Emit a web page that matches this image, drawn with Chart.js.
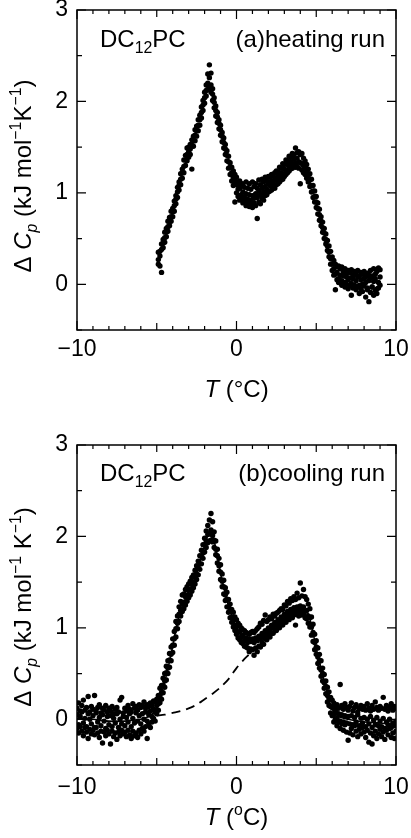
<!DOCTYPE html>
<html>
<head>
<meta charset="utf-8">
<script src="https://cdn.jsdelivr.net/npm/chart.js@4/dist/chart.umd.min.js"></script>
<style>
  html, body { margin: 0; padding: 0; background: #fff; }
  #wrap { position: relative; width: 411px; height: 838px; }
  canvas { position: absolute; left: 0; }
</style>
</head>
<body>
<div id="wrap">
  <canvas id="heat" width="411" height="420" style="top:0"></canvas>
  <canvas id="cool" width="411" height="418" style="top:420px"></canvas>
</div>
<script>
// --- axis ticks ---
const xLabelTicks = [-10, 0, 10];
const yLabelTicks = [0, 1, 2, 3];
const xMidTicks = [-5, 5];
const xMinorTicks = [-9, -8, -7, -6, -4, -3, -2, -1, 1, 2, 3, 4, 6, 7, 8, 9];
const yMinorTicks = [-0.5, 0.5, 1.5, 2.5];

// --- (a) heating run : T (C) and three read-off rows of the dot band ---
const heatT = [
  -4.9, -4.8, -4.7, -4.6, -4.5, -4.4, -4.3, -4.2, -4.1, -4.0,
  -3.9, -3.8, -3.7, -3.6, -3.5, -3.4, -3.3, -3.2, -3.1, -3.0,
  -2.9, -2.8, -2.7, -2.6, -2.5, -2.4, -2.3, -2.2, -2.1, -2.0,
  -1.9, -1.8, -1.7, -1.6, -1.5, -1.4, -1.3, -1.2, -1.1, -1.0,
  -0.9, -0.8, -0.7, -0.6, -0.5, -0.4, -0.3, -0.2, -0.1, 0.0,
  0.1, 0.2, 0.3, 0.4, 0.5, 0.6, 0.7, 0.8, 0.9, 1.0,
  1.1, 1.2, 1.3, 1.4, 1.5, 1.6, 1.7, 1.8, 1.9, 2.0,
  2.1, 2.2, 2.3, 2.4, 2.5, 2.6, 2.7, 2.8, 2.9, 3.0,
  3.1, 3.2, 3.3, 3.4, 3.5, 3.6, 3.7, 3.8, 3.9, 4.0,
  4.1, 4.2, 4.3, 4.4, 4.5, 4.6, 4.7, 4.8, 4.9, 5.0,
  5.1, 5.2, 5.3, 5.4, 5.5, 5.6, 5.7, 5.8, 5.9, 6.0,
  6.1, 6.2, 6.3, 6.4, 6.5, 6.6, 6.7, 6.8, 6.9, 7.0,
  7.1, 7.2, 7.3, 7.4, 7.5, 7.6, 7.7, 7.8, 7.9, 8.0,
  8.1, 8.2, 8.3, 8.4, 8.5, 8.6, 8.7, 8.8, 8.9, 9.0
];
const heatMid = [
  0.27, 0.31, 0.38, 0.45, 0.51, 0.57, 0.63, 0.69, 0.74, 0.79,
  0.86, 0.93, 1.01, 1.08, 1.15, 1.22, 1.29, 1.36, 1.42, 1.45,
  1.48, 1.52, 1.57, 1.63, 1.68, 1.74, 1.80, 1.88, 1.96, 2.04,
  2.12, 2.20, 2.26, 2.18, 2.08, 1.99, 1.90, 1.83, 1.76, 1.69,
  1.62, 1.55, 1.48, 1.41, 1.34, 1.28, 1.22, 1.17, 1.13, 1.09,
  1.04, 1.05, 0.98, 1.01, 0.95, 0.99, 0.93, 0.98, 0.92, 0.97,
  0.94, 0.99, 0.95, 1.02, 0.98, 1.05, 1.01, 1.07, 1.04, 1.10,
  1.08, 1.13, 1.11, 1.16, 1.14, 1.19, 1.17, 1.22, 1.21, 1.26,
  1.25, 1.31, 1.29, 1.34, 1.32, 1.37, 1.33, 1.38, 1.34, 1.33,
  1.32, 1.30, 1.27, 1.23, 1.19, 1.14, 1.08, 1.02, 0.96, 0.90,
  0.83, 0.76, 0.69, 0.62, 0.56, 0.49, 0.42, 0.35, 0.28, 0.22,
  0.17, 0.11, 0.13, 0.06, 0.10, 0.04, 0.09, 0.02, 0.08, 0.05,
  0.07, 0.01, 0.06, -0.02, 0.04, 0.08, -0.01, 0.05, 0.00, 0.06,
  0.02, -0.04, 0.04, 0.07, -0.03, 0.03, 0.06, -0.05, 0.02, 0.08
];
const heatHi = [
  0.35, 0.36, 0.44, 0.49, 0.57, 0.61, 0.69, 0.73, 0.80, 0.83,
  0.91, 0.97, 1.06, 1.12, 1.21, 1.26, 1.36, 1.41, 1.49, 1.50,
  1.53, 1.58, 1.62, 1.69, 1.73, 1.80, 1.85, 1.94, 2.01, 2.10,
  2.18, 2.30, 2.40, 2.31, 2.14, 2.04, 1.95, 1.88, 1.80, 1.74,
  1.66, 1.60, 1.53, 1.46, 1.40, 1.33, 1.28, 1.24, 1.20, 1.17,
  1.12, 1.13, 1.08, 1.10, 1.06, 1.12, 1.05, 1.10, 1.04, 1.12,
  1.07, 1.10, 1.05, 1.14, 1.09, 1.15, 1.12, 1.17, 1.13, 1.18,
  1.17, 1.20, 1.19, 1.22, 1.24, 1.23, 1.28, 1.27, 1.32, 1.31,
  1.36, 1.35, 1.40, 1.39, 1.43, 1.42, 1.49, 1.44, 1.45, 1.42,
  1.43, 1.38, 1.35, 1.31, 1.26, 1.21, 1.15, 1.08, 1.02, 0.96,
  0.89, 0.82, 0.74, 0.68, 0.61, 0.55, 0.48, 0.42, 0.36, 0.30,
  0.26, 0.22, 0.19, 0.20, 0.17, 0.19, 0.14, 0.17, 0.12, 0.15,
  0.13, 0.16, 0.10, 0.14, 0.11, 0.15, 0.09, 0.13, 0.11, 0.14,
  0.08, 0.12, 0.10, 0.15, 0.09, 0.17, 0.11, 0.14, 0.18, 0.16
];
const heatLo = [
  0.22, 0.20, 0.13, 0.40, 0.46, 0.52, 0.58, 0.64, 0.69, 0.74,
  0.80, 0.88, 0.95, 1.03, 1.09, 1.16, 1.22, 1.30, 1.35, 1.39,
  1.42, 1.26, 1.51, 1.57, 1.62, 1.68, 1.74, 1.82, 1.90, 1.98,
  2.06, 2.13, 2.15, 2.10, 2.01, 1.93, 1.84, 1.77, 1.70, 1.63,
  1.56, 1.49, 1.42, 1.35, 1.27, 1.20, 1.13, 1.08, 0.90, 1.00,
  0.96, 0.92, 0.94, 0.89, 0.91, 0.86, 0.90, 0.85, 0.88, 0.84,
  0.89, 0.86, 0.72, 0.90, 0.88, 0.94, 0.92, 0.97, 0.98, 1.01,
  1.02, 1.03, 1.06, 1.05, 1.09, 1.10, 1.12, 1.14, 1.15, 1.18,
  1.20, 1.22, 1.24, 1.26, 1.27, 1.29, 1.28, 1.29, 1.27, 1.10,
  1.25, 1.22, 1.20, 1.16, 1.12, 1.07, 1.01, 0.95, 0.90, 0.84,
  0.77, 0.70, 0.64, 0.57, 0.50, 0.44, 0.37, 0.30, 0.22, 0.15,
  0.10, -0.06, 0.05, 0.02, 0.04, -0.01, 0.02, -0.03, 0.00, -0.05,
  -0.02, -0.12, -0.04, -0.01, -0.06, -0.03, -0.10, -0.05, -0.08, -0.02,
  -0.14, -0.06, -0.19, -0.09, -0.03, -0.12, -0.07, -0.10, -0.04, -0.01
];

// --- (b) cooling run ---
const coolT = [
  -10.0, -9.9, -9.8, -9.7, -9.6, -9.5, -9.4, -9.3, -9.2, -9.1,
  -9.0, -8.9, -8.8, -8.7, -8.6, -8.5, -8.4, -8.3, -8.2, -8.1,
  -8.0, -7.9, -7.8, -7.7, -7.6, -7.5, -7.4, -7.3, -7.2, -7.1,
  -7.0, -6.9, -6.8, -6.7, -6.6, -6.5, -6.4, -6.3, -6.2, -6.1,
  -6.0, -5.9, -5.8, -5.7, -5.6, -5.5, -5.4, -5.3, -5.2, -5.1,
  -5.0, -4.9, -4.8, -4.7, -4.6, -4.5, -4.4, -4.3, -4.2, -4.1,
  -4.0, -3.9, -3.8, -3.7, -3.6, -3.5, -3.4, -3.3, -3.2, -3.1,
  -3.0, -2.9, -2.8, -2.7, -2.6, -2.5, -2.4, -2.3, -2.2, -2.1,
  -2.0, -1.9, -1.8, -1.7, -1.6, -1.5, -1.4, -1.3, -1.2, -1.1,
  -1.0, -0.9, -0.8, -0.7, -0.6, -0.5, -0.4, -0.3, -0.2, -0.1,
  0.0, 0.1, 0.2, 0.3, 0.4, 0.5, 0.6, 0.7, 0.8, 0.9,
  1.0, 1.1, 1.2, 1.3, 1.4, 1.5, 1.6, 1.7, 1.8, 1.9,
  2.0, 2.1, 2.2, 2.3, 2.4, 2.5, 2.6, 2.7, 2.8, 2.9,
  3.0, 3.1, 3.2, 3.3, 3.4, 3.5, 3.6, 3.7, 3.8, 3.9,
  4.0, 4.1, 4.2, 4.3, 4.4, 4.5, 4.6, 4.7, 4.8, 4.9,
  5.0, 5.1, 5.2, 5.3, 5.4, 5.5, 5.6, 5.7, 5.8, 5.9,
  6.0, 6.1, 6.2, 6.3, 6.4, 6.5, 6.6, 6.7, 6.8, 6.9,
  7.0, 7.1, 7.2, 7.3, 7.4, 7.5, 7.6, 7.7, 7.8, 7.9,
  8.0, 8.1, 8.2, 8.3, 8.4, 8.5, 8.6, 8.7, 8.8, 8.9,
  9.0, 9.1, 9.2, 9.3, 9.4, 9.5, 9.6, 9.7, 9.8, 9.9, 10.0
];
const coolMid = [
  0.05, -0.06, 0.03, 0.08, -0.04, 0.01, -0.08, 0.06, 0.00, -0.05,
  0.04, -0.09, 0.07, -0.03, 0.02, -0.07, 0.05, -0.02, -0.10, 0.03,
  -0.06, 0.04, -0.08, 0.01, -0.04, 0.06, -0.09, 0.00, -0.05, 0.03,
  -0.07, 0.02, -0.03, 0.06, -0.08, 0.01, -0.04, 0.07, -0.02, 0.04,
  -0.05, 0.06, 0.00, 0.08, -0.02, 0.05, 0.09, 0.03, 0.11, 0.08,
  0.15, 0.17, 0.26, 0.29, 0.37, 0.42, 0.51, 0.56, 0.65, 0.71,
  0.81, 0.88, 0.99, 1.05, 1.15, 1.19, 1.26, 1.28, 1.34, 1.36,
  1.41, 1.42, 1.48, 1.50, 1.56, 1.59, 1.66, 1.70, 1.78, 1.82,
  1.91, 1.95, 2.02, 2.03, 2.07, 2.01, 1.96, 1.86, 1.79, 1.68,
  1.61, 1.51, 1.45, 1.36, 1.31, 1.23, 1.19, 1.12, 1.09, 1.03,
  1.01, 0.95, 0.96, 0.90, 0.92, 0.86, 0.89, 0.84, 0.88, 0.85,
  0.88, 0.84, 0.89, 0.86, 0.91, 0.88, 0.94, 0.91, 0.97, 0.94,
  1.00, 0.97, 1.03, 1.00, 1.06, 1.03, 1.09, 1.06, 1.12, 1.09,
  1.15, 1.12, 1.18, 1.15, 1.20, 1.17, 1.22, 1.18, 1.23, 1.19,
  1.24, 1.20, 1.23, 1.18, 1.19, 1.13, 1.11, 1.01, 0.95, 0.84,
  0.79, 0.68, 0.64, 0.54, 0.50, 0.40, 0.36, 0.26, 0.23, 0.14,
  0.13, 0.05, 0.09, 0.01, 0.06, -0.02, 0.05, -0.03, 0.04, -0.04,
  0.03, -0.05, 0.04, -0.06, 0.02, -0.03, 0.05, -0.07, 0.01, -0.04,
  0.02, -0.08, 0.00, -0.05, 0.03, -0.09, -0.01, -0.06, 0.02, -0.07,
  -0.02, -0.08, 0.01, -0.10, -0.03, -0.06, 0.00, -0.09, -0.04, -0.07, -0.02
];
const coolHi = [
  0.12, 0.18, 0.09, 0.15, 0.21, 0.10, 0.13, 0.25, 0.08, 0.14,
  0.11, 0.26, 0.09, 0.13, 0.16, 0.07, 0.12, 0.10, 0.15, 0.08,
  0.12, 0.09, 0.14, 0.06, 0.11, 0.13, 0.08, 0.21, 0.24, 0.07,
  0.12, 0.09, 0.15, 0.11, 0.08, 0.17, 0.12, 0.14, 0.10, 0.16,
  0.13, 0.15, 0.19, 0.12, 0.16, 0.14, 0.18, 0.15, 0.20, 0.19,
  0.22, 0.26, 0.34, 0.37, 0.45, 0.50, 0.58, 0.64, 0.72, 0.79,
  0.88, 0.96, 1.07, 1.13, 1.23, 1.29, 1.36, 1.37, 1.42, 1.45,
  1.48, 1.51, 1.55, 1.58, 1.63, 1.68, 1.73, 1.79, 1.85, 1.91,
  1.98, 2.06, 2.12, 2.18, 2.25, 2.16, 2.05, 1.95, 1.86, 1.76,
  1.69, 1.59, 1.52, 1.44, 1.39, 1.31, 1.26, 1.20, 1.17, 1.12,
  1.09, 1.05, 1.03, 1.00, 0.98, 0.97, 0.95, 0.94, 0.93, 0.95,
  0.96, 0.95, 0.97, 0.99, 1.01, 1.05, 1.04, 1.08, 1.14, 1.07,
  1.09, 1.12, 1.10, 1.15, 1.13, 1.16, 1.17, 1.19, 1.21, 1.20,
  1.25, 1.24, 1.29, 1.27, 1.32, 1.30, 1.34, 1.31, 1.38, 1.33,
  1.49, 1.35, 1.42, 1.34, 1.31, 1.26, 1.21, 1.12, 1.04, 0.93,
  0.86, 0.78, 0.71, 0.64, 0.56, 0.49, 0.42, 0.35, 0.30, 0.24,
  0.21, 0.18, 0.14, 0.16, 0.12, 0.38, 0.15, 0.11, 0.17, 0.13,
  0.10, 0.14, 0.18, 0.09, 0.13, 0.16, 0.08, 0.12, 0.15, 0.11,
  0.14, 0.10, 0.17, 0.12, 0.09, 0.15, 0.11, 0.19, 0.13, 0.10,
  0.14, 0.12, 0.24, 0.11, 0.15, 0.09, 0.13, 0.17, 0.10, 0.14, 0.12
];
const coolLo = [
  -0.10, -0.15, -0.08, -0.13, -0.18, -0.09, -0.14, -0.21, -0.11, -0.16,
  -0.12, -0.17, -0.09, -0.15, -0.20, -0.13, -0.26, -0.14, -0.18, -0.12,
  -0.16, -0.27, -0.13, -0.19, -0.15, -0.22, -0.14, -0.18, -0.12, -0.16,
  -0.14, -0.19, -0.12, -0.17, -0.21, -0.13, -0.18, -0.15, -0.20, -0.12,
  -0.16, -0.10, -0.13, -0.08, -0.21, -0.05, -0.09, -0.03, 0.01, -0.02,
  0.06, 0.10, 0.18, 0.22, 0.29, 0.35, 0.43, 0.50, 0.57, 0.64,
  0.73, 0.81, 0.90, 0.99, 1.07, 1.13, 1.18, 1.21, 1.25, 1.29,
  1.33, 1.36, 1.40, 1.44, 1.48, 1.53, 1.58, 1.64, 1.70, 1.76,
  1.83, 1.88, 1.93, 1.95, 1.96, 1.94, 1.88, 1.80, 1.71, 1.62,
  1.53, 1.45, 1.37, 1.30, 1.23, 1.17, 1.11, 1.06, 1.01, 0.97,
  0.93, 0.89, 0.87, 0.84, 0.83, 0.80, 0.79, 0.78, 0.74, 0.77,
  0.76, 0.70, 0.78, 0.74, 0.80, 0.79, 0.84, 0.82, 0.88, 0.87,
  0.91, 0.90, 0.94, 0.94, 0.98, 0.97, 1.01, 1.00, 1.04, 1.03,
  1.07, 1.06, 1.10, 1.09, 1.12, 1.11, 1.14, 1.03, 1.15, 1.13,
  1.16, 1.14, 1.15, 1.11, 1.10, 1.05, 1.01, 0.92, 0.85, 0.76,
  0.71, 0.61, 0.56, 0.47, 0.42, 0.34, 0.28, 0.19, 0.15, 0.07,
  0.04, -0.03, 0.00, -0.07, -0.03, -0.10, -0.05, -0.12, -0.06, -0.14,
  -0.23, -0.15, -0.10, -0.17, -0.07, -0.13, -0.19, -0.11, -0.16, -0.09,
  -0.14, -0.20, -0.12, -0.25, -0.15, -0.27, -0.18, -0.13, -0.21, -0.16,
  -0.11, -0.19, -0.14, -0.22, -0.12, -0.17, -0.10, -0.20, -0.15, -0.21, -0.13
];
// solid fit curve through the cooling data
const fitT = [-10, -9, -8, -7, -6, -5.5, -5.2, -5.0, -4.8, -4.6, -4.4, -4.2, -4.0, -3.8, -3.6, -3.4, -3.2, -3.0,
  -2.8, -2.6, -2.4, -2.2, -2.0, -1.8, -1.65, -1.5, -1.3, -1.1, -0.9, -0.7, -0.5, -0.3, -0.1, 0.2, 0.5, 0.8,
  1.1, 1.5, 2.0, 2.5, 3.0, 3.5, 4.0, 4.3, 4.5, 4.7, 4.9, 5.1, 5.3, 5.5, 5.7, 5.9, 6.1, 6.4, 7, 8, 9, 10];
const fitCp = [0.01, 0.00, -0.02, -0.02, 0.00, 0.03, 0.07, 0.13, 0.22, 0.34, 0.48, 0.63, 0.80, 0.98, 1.13, 1.24, 1.32, 1.40,
  1.47, 1.55, 1.65, 1.77, 1.90, 2.01, 2.06, 2.02, 1.87, 1.69, 1.52, 1.37, 1.24, 1.13, 1.04, 0.94, 0.88, 0.86,
  0.86, 0.90, 0.98, 1.05, 1.13, 1.19, 1.22, 1.20, 1.15, 1.03, 0.86, 0.70, 0.56, 0.42, 0.28, 0.16, 0.08, 0.03, 0.00, -0.03, -0.04, -0.06];
// dashed baseline under the transitions
const baseT = [-5.0, -4.5, -4.0, -3.5, -3.0, -2.5, -2.0, -1.5, -1.0, -0.5, 0.0, 0.5, 0.85, 1.2];
const baseCp = [0.04, 0.05, 0.07, 0.09, 0.12, 0.16, 0.22, 0.28, 0.35, 0.44, 0.56, 0.66, 0.72, 0.80];

const FONT = '"Liberation Sans", Arial, Helvetica, sans-serif';
const FS = 23;
const LS = 24;  // label / title size

function pts(xs, ys) { return xs.map((x, i) => ({ x: x, y: ys[i] })); }

function dots(xs, ys) {
    return { data: pts(xs, ys), pointRadius: 2.7, pointHoverRadius: 2.7, pointBackgroundColor: '#000', pointBorderWidth: 0, showLine: false };
}

// draw a run of text pieces (italic / sub / sup) on one baseline
function drawRich(ctx, segs, x, y, align, size) {
    const parts = segs.map(s => {
        const sz = (s.sub || s.sup) ? size * 0.66 : size;
        const font = (s.it ? 'italic ' : '') + sz + 'px ' + FONT;
        ctx.font = font;
        return { t: s.t, font: font, w: ctx.measureText(s.t).width, dy: s.sub ? size * 0.27 : (s.sup ? -size * 0.4 : 0) };
    });
    const total = parts.reduce((a, p) => a + p.w, 0);
    let cx = align === 'center' ? x - total / 2 : (align === 'right' ? x - total : x);
    ctx.fillStyle = '#000';
    ctx.textAlign = 'left';
    ctx.textBaseline = 'alphabetic';
    parts.forEach(p => { ctx.font = p.font; ctx.fillText(p.t, cx, y + p.dy); cx += p.w; });
}

const framePlugin = {
    id: 'frame',
    afterDraw(chart, args, o) {
        const ctx = chart.ctx, a = chart.chartArea;
        const xs = chart.scales.x, ys = chart.scales.y;
        ctx.save();
        ctx.strokeStyle = '#000';
        ctx.lineWidth = 1.5;
        ctx.strokeRect(a.left, a.top, a.right - a.left, a.bottom - a.top);
        ctx.lineWidth = 1.2;
        ctx.beginPath();
        const xt = (vals, len) => vals.forEach(v => {
            const p = xs.getPixelForValue(v);
            ctx.moveTo(p, a.bottom); ctx.lineTo(p, a.bottom - len);
            ctx.moveTo(p, a.top); ctx.lineTo(p, a.top + len);
        });
        const yt = (vals, len) => vals.forEach(v => {
            const p = ys.getPixelForValue(v);
            ctx.moveTo(a.left, p); ctx.lineTo(a.left + len, p);
            ctx.moveTo(a.right, p); ctx.lineTo(a.right - len, p);
        });
        xt(xLabelTicks, 9); xt(xMidTicks, 7); xt(xMinorTicks, 4);
        yt(yLabelTicks, 9); yt(yMinorTicks, 5);
        ctx.stroke();

        // texts
        drawRich(ctx, o.tag, a.left + 23, a.top + o.tagY, 'left', LS);
        drawRich(ctx, o.run, a.right - 11, a.top + o.tagY, 'right', LS);
        drawRich(ctx, o.xTitle, (a.left + a.right) / 2, a.bottom + o.xTitleY, 'center', LS);
        ctx.translate(31, (a.top + a.bottom) / 2 + o.yShift);
        ctx.rotate(-Math.PI / 2);
        drawRich(ctx, o.yTitle, 0, 0, 'center', LS);
        ctx.restore();
    }
};

const tagText = [{ t: 'DC' }, { t: '12', sub: true }, { t: 'PC' }];

function makeChart(id, datasets, top, xAxisH, tickPad, texts) {
    return new Chart(document.getElementById(id), {
        type: 'scatter',
        data: { datasets: datasets },
        options: {
            responsive: false,
            animation: false,
            events: [],
            layout: { padding: { top: top, right: 15, left: 0, bottom: 0 } },
            plugins: { legend: { display: false }, tooltip: { enabled: false }, frame: texts },
            scales: {
                x: {
                    type: 'linear', min: -10, max: 10,
                    grid: { display: false, drawTicks: false },
                    border: { display: false },
                    ticks: { padding: tickPad, color: '#000', font: { family: FONT, size: FS },
                        callback: v => v < 0 ? '\u2212' + Math.abs(v) : '' + v },
                    afterBuildTicks: s => { s.ticks = xLabelTicks.map(v => ({ value: v })); },
                    afterFit: s => { s.height = xAxisH; s.paddingLeft = 0; s.paddingRight = 0; }
                },
                y: {
                    type: 'linear', min: -0.5, max: 3,
                    grid: { display: false, drawTicks: false },
                    border: { display: false },
                    ticks: { padding: 9, color: '#000', font: { family: FONT, size: FS } },
                    afterBuildTicks: s => { s.ticks = yLabelTicks.map(v => ({ value: v })); },
                    afterFit: s => { s.width = 77; s.paddingTop = 0; s.paddingBottom = 0; }
                }
            }
        },
        plugins: [framePlugin]
    });
}

makeChart('heat', [dots(heatT, heatMid), dots(heatT, heatHi), dots(heatT, heatLo)], 10, 90, 6, {
    tag: tagText, run: [{ t: '(a)heating run' }], tagY: 37,
    xTitle: [{ t: 'T', it: true }, { t: ' (' }, { t: '\u00b0' }, { t: 'C)' }], xTitleY: 67,
    yTitle: [{ t: '\u0394 ' }, { t: 'C', it: true }, { t: 'p', it: true, sub: true }, { t: ' (kJ mol' }, { t: '\u22121', sup: true }, { t: 'K' }, { t: '\u22121', sup: true }, { t: ')' }],
    yShift: 6
});

makeChart('cool', [
    dots(coolT, coolMid), dots(coolT, coolHi), dots(coolT, coolLo),
    { data: pts(fitT, fitCp), showLine: true, borderColor: '#000', borderWidth: 1.6, pointRadius: 0, tension: 0.3, fill: false },
    { data: pts(baseT, baseCp), showLine: true, borderColor: '#000', borderWidth: 1.8, borderDash: [9, 6], pointRadius: 0, tension: 0.3, fill: false }
], 25, 73, 9, {
    tag: tagText, run: [{ t: '(b)cooling run' }], tagY: 36,
    xTitle: [{ t: 'T', it: true }, { t: ' (' }, { t: 'o', sup: true }, { t: 'C)' }], xTitleY: 60,
    yTitle: [{ t: '\u0394 ' }, { t: 'C', it: true }, { t: 'p', it: true, sub: true }, { t: ' (kJ mol' }, { t: '\u22121', sup: true }, { t: ' K' }, { t: '\u22121', sup: true }, { t: ')' }],
    yShift: 2
});
</script>
</body>
</html>
